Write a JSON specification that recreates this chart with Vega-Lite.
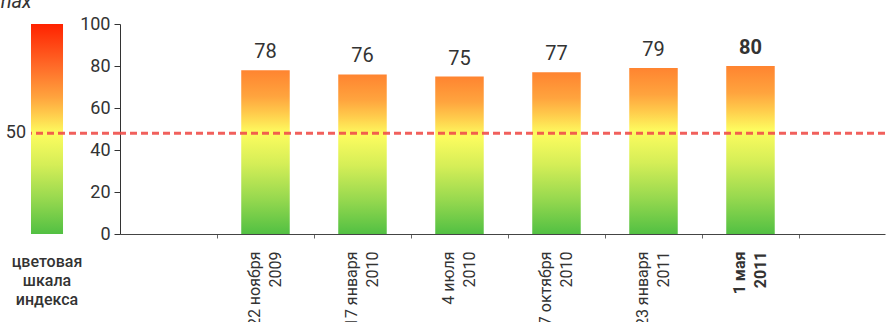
{
  "$schema": "https://vega.github.io/schema/vega-lite/v6.json",
  "padding": {"left": -6, "top": -8, "right": 0, "bottom": -5},
  "background": "white",
  "config": {"view": {"stroke": null}, "font": "Roboto"},
  "bounds": "flush",
  "spacing": 0,
  "hconcat": [
    {
      "width": 89,
      "height": 210,
      "data": {"values": [{"scale": "index", "lo": 0, "hi": 100, "mid": 48, "midLabel": "50", "topLabel": "max"}]},
      "title": {"text": ["цветовая", "шкала", "индекса"], "orient": "bottom", "anchor": "start", "frame": "group", "align": "center", "dx": 16, "offset": 20, "baseline": "top", "fontSize": 16, "fontWeight": 500, "lineHeight": 19, "color": "#333333", "font": "Roboto"},
      "layer": [
        {
          "mark": {"type": "bar", "color": {"gradient": "linear", "x1": 0, "y1": 1, "x2": 0, "y2": 0, "stops": [
            {"offset": 0, "color": "#52c043"},
            {"offset": 0.17, "color": "#98d94f"},
            {"offset": 0.33, "color": "#d5ee57"},
            {"offset": 0.48, "color": "#fdfc5f"},
            {"offset": 0.57, "color": "#ffcc4c"},
            {"offset": 0.65, "color": "#ffa43e"},
            {"offset": 0.8, "color": "#ff6a28"},
            {"offset": 1, "color": "#ff2200"}]}},
          "encoding": {
            "x": {"field": "scale", "type": "nominal", "axis": null, "scale": {"paddingInner": 0, "paddingOuter": 0.89, "align": 0}},
            "y": {"field": "lo", "type": "quantitative", "scale": {"domain": [0, 100], "nice": false}, "axis": null},
            "y2": {"field": "hi"}
          }
        },
        {
          "mark": {"type": "rule", "strokeDash": [7, 4], "strokeWidth": 3, "color": "#ef4f4a", "opacity": 0.9},
          "encoding": {"y": {"field": "mid", "type": "quantitative"}}
        },
        {
          "mark": {"type": "text", "align": "right", "baseline": "middle", "dx": -21, "fontSize": 18, "color": "#333333"},
          "encoding": {
            "x": {"field": "scale", "type": "nominal"},
            "y": {"field": "mid", "type": "quantitative"},
            "text": {"field": "midLabel"}
          }
        },
        {
          "mark": {"type": "text", "align": "center", "baseline": "alphabetic", "dx": -34, "dy": -16, "fontSize": 20, "fontStyle": "italic", "color": "#333333"},
          "encoding": {
            "x": {"field": "scale", "type": "nominal"},
            "y": {"field": "hi", "type": "quantitative"},
            "text": {"field": "topLabel"}
          }
        }
      ]
    },
    {
      "width": 765,
      "height": 210,
      "data": {"values": [
        {"date": "22 ноября|2009", "index": 78, "latest": false},
        {"date": "17 января|2010", "index": 76, "latest": false},
        {"date": "4 июля|2010", "index": 75, "latest": false},
        {"date": "7 октября|2010", "index": 77, "latest": false},
        {"date": "23 января|2011", "index": 79, "latest": false},
        {"date": "1 мая|2011", "index": 80, "latest": true}
      ]},
      "layer": [
        {
          "mark": {"type": "bar", "width": {"band": 0.5}, "color": {"gradient": "linear", "x1": 0, "y1": 1, "x2": 0, "y2": 0, "stops": [
            {"offset": 0, "color": "#52c043"},
            {"offset": 0.22, "color": "#98d94f"},
            {"offset": 0.43, "color": "#d5ee57"},
            {"offset": 0.62, "color": "#fdfc5f"},
            {"offset": 0.735, "color": "#ffcc4c"},
            {"offset": 0.84, "color": "#ffa43e"},
            {"offset": 1, "color": "#ff8430"}]}},
          "encoding": {
            "x": {"field": "date", "type": "nominal", "sort": null,
              "scale": {"domain": ["22 ноября|2009", "17 января|2010", "4 июля|2010", "7 октября|2010", "23 января|2011", "1 мая|2011"], "paddingInner": 0, "paddingOuter": 0.9433, "align": 0.53},
              "axis": {"title": null, "tickBand": "extent", "labelAngle": 270, "labelAlign": "right", "labelBaseline": "middle",
                "labelExpr": "split(datum.label, '|')", "labelFontSize": 16, "labelLineHeight": 21, "labelColor": "#333333",
                "labelPadding": 13, "labelOffset": -11, "tickSize": 4, "tickColor": "#666666", "domainColor": "#444444", "labelOverlap": false,
                "labelFontWeight": {"condition": {"test": "datum.value == '1 мая|2011'", "value": "bold"}, "value": "normal"}}},
            "y": {"field": "index", "type": "quantitative", "scale": {"domain": [0, 100], "nice": false},
              "axis": {"title": null, "values": [0, 20, 40, 60, 80, 100], "grid": false, "tickSize": 6, "tickColor": "#333333",
                "domainColor": "#333333", "labelFontSize": 18, "labelColor": "#333333", "labelPadding": 4}}
          }
        },
        {
          "transform": [{"filter": "!datum.latest"}],
          "mark": {"type": "text", "baseline": "alphabetic", "dy": -12, "fontSize": 20, "color": "#333333"},
          "encoding": {
            "x": {"field": "date", "type": "nominal"},
            "y": {"field": "index", "type": "quantitative"},
            "text": {"field": "index"}
          }
        },
        {
          "transform": [{"filter": "datum.latest"}],
          "mark": {"type": "text", "baseline": "alphabetic", "dy": -12, "fontSize": 20, "fontWeight": "bold", "color": "#333333"},
          "encoding": {
            "x": {"field": "date", "type": "nominal"},
            "y": {"field": "index", "type": "quantitative"},
            "text": {"field": "index"}
          }
        },
        {
          "data": {"values": [{"threshold": 48}]},
          "mark": {"type": "rule", "strokeDash": [7, 4], "strokeWidth": 3, "color": "#ef4f4a", "opacity": 0.9},
          "encoding": {"y": {"field": "threshold", "type": "quantitative"}}
        }
      ]
    }
  ]
}
